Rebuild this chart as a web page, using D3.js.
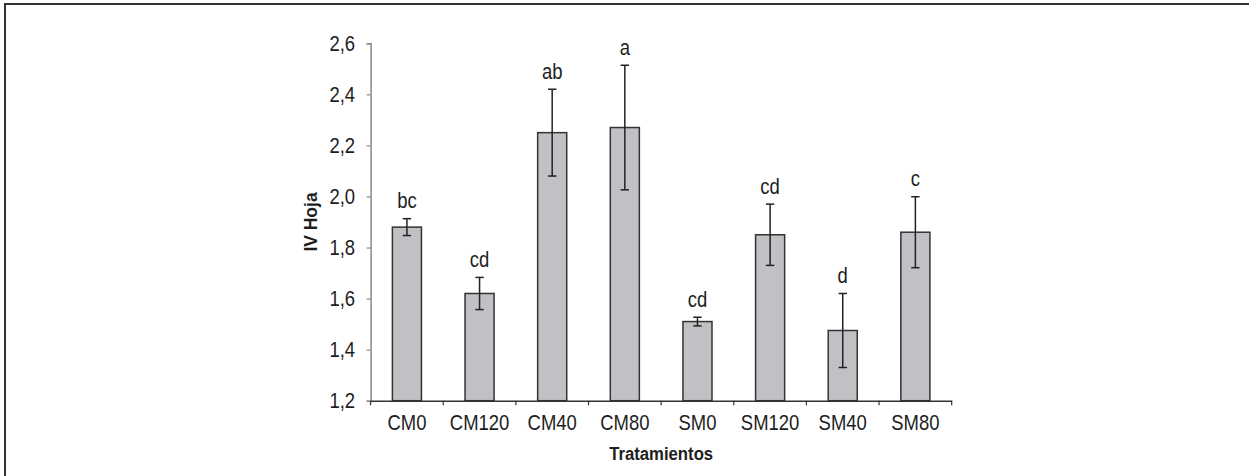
<!DOCTYPE html>
<html>
<head>
<meta charset="utf-8">
<script src="https://cdn.jsdelivr.net/npm/d3@7"></script>
<style>
  body { margin: 0; background: #fff; }
  svg { display: block; }
  text { font-family: "Liberation Sans", Arial, sans-serif; fill: #1e1e1e; }
</style>
</head>
<body>
<div id="chart"></div>
<script>
// data
var treatments = ["CM0", "CM120", "CM40", "CM80", "SM0", "SM120", "SM40", "SM80"];
var ivHoja = [1.88, 1.62, 2.25, 2.27, 1.51, 1.85, 1.475, 1.86];
var errors = [0.033, 0.063, 0.17, 0.244, 0.017, 0.12, 0.145, 0.139];
var letters = ["bc", "cd", "ab", "a", "cd", "cd", "d", "c"];
var yTicks = [1.2, 1.4, 1.6, 1.8, 2.0, 2.2, 2.4, 2.6];

// set svg dimension
var svgWidth = 1249;
var svgHeight = 476;

var margin = { top: 43.3, right: 297.3, bottom: 75.3, left: 370.6 };
var chartWidth = svgWidth - margin.left - margin.right;
var chartHeight = svgHeight - margin.top - margin.bottom;

// condensed look: squeeze the regular sans horizontally
var narrow = 0.84;

var svg = d3.select("#chart")
  .append("svg")
  .attr("width", svgWidth)
  .attr("height", svgHeight);

// outer frame (top and left edges visible)
svg.append("path")
  .attr("d", "M5,476 V4 H1249")
  .attr("fill", "none")
  .attr("stroke", "#333")
  .attr("stroke-width", 2);

var chartGroup = svg.append("g")
  .attr("transform", `translate(${margin.left},${margin.top})`);

// scales
var xBandScale = d3.scaleBand()
  .domain(treatments)
  .range([0, chartWidth])
  .paddingInner(0.6)
  .paddingOuter(0.3);

var yLinearScale = d3.scaleLinear()
  .domain([1.2, 2.6])
  .range([chartHeight, 0]);

var rows = treatments.map((t, i) => ({ name: t, value: ivHoja[i], err: errors[i], letter: letters[i] }));

// y axis
var leftAxis = d3.axisLeft(yLinearScale)
  .tickValues(yTicks)
  .tickSize(4)
  .tickPadding(11)
  .tickFormat(d => d3.format(".1f")(d).replace(".", ","));

var yAxis = chartGroup.append("g").call(leftAxis);
yAxis.select(".domain").attr("stroke", "#888").attr("stroke-width", 1.5);
yAxis.selectAll(".tick line").attr("stroke", "#888").attr("stroke-width", 1.2);
yAxis.selectAll("text")
  .attr("font-size", "22px")
  .attr("font-family", null)
  .attr("fill", "#1e1e1e")
  .attr("x", -15.5 / narrow)
  .attr("transform", `scale(${narrow},1)`);

// bars
chartGroup.selectAll("rect.bar")
  .data(rows)
  .enter()
  .append("rect")
  .attr("class", "bar")
  .attr("x", d => xBandScale(d.name))
  .attr("y", d => yLinearScale(d.value))
  .attr("width", xBandScale.bandwidth())
  .attr("height", d => chartHeight - yLinearScale(d.value))
  .attr("fill", "#c0c1c4")
  .attr("stroke", "#333")
  .attr("stroke-width", 1.5);

// x axis
var bottomAxis = d3.axisBottom(xBandScale)
  .tickSize(0)
  .tickPadding(13.5);

var xAxis = chartGroup.append("g")
  .attr("transform", `translate(0, ${chartHeight})`)
  .call(bottomAxis);
xAxis.select(".domain").attr("stroke", "#333").attr("stroke-width", 1.5);
xAxis.selectAll("text")
  .attr("font-size", "22px")
  .attr("font-family", null)
  .attr("fill", "#1e1e1e")
  .attr("transform", `scale(${narrow},1)`);

// tick marks between categories
var step = xBandScale.step();
var boundaries = treatments.map(t => xBandScale(t) + xBandScale.bandwidth() / 2 - step / 2);
boundaries.push(chartWidth);
chartGroup.selectAll("line.xtick")
  .data(boundaries)
  .enter()
  .append("line")
  .attr("class", "xtick")
  .attr("x1", d => d)
  .attr("x2", d => d)
  .attr("y1", chartHeight)
  .attr("y2", chartHeight + 4.5)
  .attr("stroke", "#333")
  .attr("stroke-width", 1.2);

// error bars
var errGroup = chartGroup.append("g");
var cx = d => xBandScale(d.name) + xBandScale.bandwidth() / 2;
var capHalf = 4.2;

errGroup.selectAll("line.stem")
  .data(rows)
  .enter()
  .append("line")
  .attr("x1", cx)
  .attr("x2", cx)
  .attr("y1", d => yLinearScale(d.value + d.err))
  .attr("y2", d => yLinearScale(d.value - d.err))
  .attr("stroke", "#222")
  .attr("stroke-width", 1.5);

errGroup.selectAll("line.capTop")
  .data(rows)
  .enter()
  .append("line")
  .attr("x1", d => cx(d) - capHalf)
  .attr("x2", d => cx(d) + capHalf)
  .attr("y1", d => yLinearScale(d.value + d.err))
  .attr("y2", d => yLinearScale(d.value + d.err))
  .attr("stroke", "#222")
  .attr("stroke-width", 1.5);

errGroup.selectAll("line.capBottom")
  .data(rows)
  .enter()
  .append("line")
  .attr("x1", d => cx(d) - capHalf)
  .attr("x2", d => cx(d) + capHalf)
  .attr("y1", d => yLinearScale(d.value - d.err))
  .attr("y2", d => yLinearScale(d.value - d.err))
  .attr("stroke", "#222")
  .attr("stroke-width", 1.5);

// significance letters
chartGroup.selectAll("g.letter")
  .data(rows)
  .enter()
  .append("g")
  .attr("class", "letter")
  .attr("transform", d => `translate(${cx(d)},${yLinearScale(d.value + d.err) - 10.5})`)
  .append("text")
  .attr("text-anchor", "middle")
  .attr("font-size", "22px")
  .attr("transform", `scale(${narrow},1)`)
  .text(d => d.letter);

// axis labels
chartGroup.append("g")
  .attr("transform", `translate(${chartWidth / 2},${chartHeight + 59.5})`)
  .append("text")
  .attr("text-anchor", "middle")
  .attr("font-size", "19px")
  .attr("font-weight", "bold")
  .attr("transform", "scale(0.88,1)")
  .text("Tratamientos");

chartGroup.append("g")
  .attr("transform", `translate(-54,${chartHeight / 2}) rotate(-90)`)
  .append("text")
  .attr("text-anchor", "middle")
  .attr("font-size", "19px")
  .attr("font-weight", "bold")
  .attr("transform", "scale(0.92,1)")
  .text("IV Hoja");
</script>
</body>
</html>
